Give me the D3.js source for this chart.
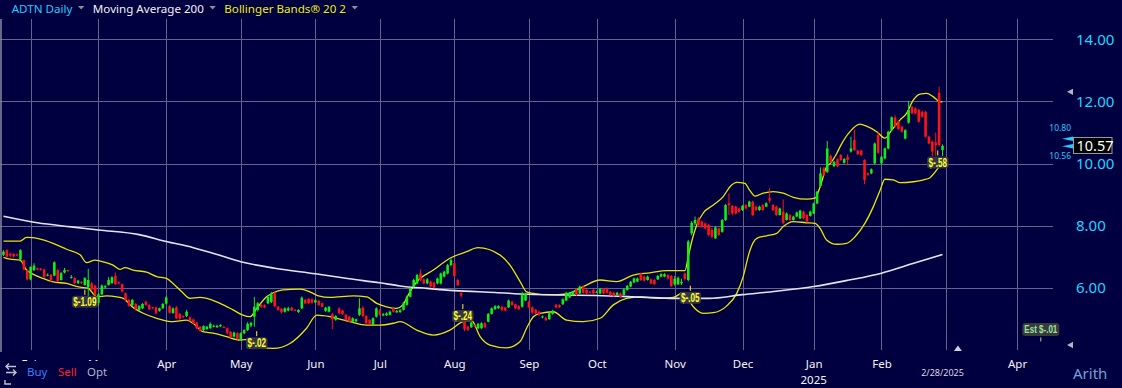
<!DOCTYPE html>
<html>
<head>
<meta charset="utf-8">
<script src="https://cdn.jsdelivr.net/npm/d3@7"></script>
<style>
  html, body { margin: 0; padding: 0; background: #000040; overflow: hidden; }
  svg { display: block; }
  text { font-family: "Noto Sans", sans-serif; }
</style>
</head>
<body>
<svg id="chart" width="1122" height="388"></svg>
<script>
// daily candles, ADTN, 22 Jan 2024 .. 28 Feb 2025, [open, high, low, close]
const candles = [
  [7.07,7.22,7.03,7.17],[7.22,7.25,6.98,7.01],[7.10,7.14,7.00,7.05],[7.10,7.12,6.98,7.02],[7.08,7.12,7.02,7.05],
  [6.92,7.25,6.90,7.22],[6.90,6.92,6.58,6.60],[6.58,6.60,6.25,6.28],[6.28,6.70,6.25,6.68],[6.58,6.80,6.55,6.72],
  [6.64,6.66,6.57,6.60],[6.62,6.65,6.56,6.59],[6.60,6.62,6.33,6.36],[6.42,6.47,6.38,6.43],[6.43,6.45,6.20,6.25],
  [6.40,6.86,6.38,6.83],[6.58,6.62,6.20,6.22],[6.26,6.52,6.24,6.48],[6.50,6.65,6.47,6.58],[6.58,6.60,6.52,6.56],
  [6.35,6.42,6.30,6.36],[6.32,6.35,6.12,6.16],[6.16,6.26,6.13,6.24],[6.20,6.22,6.13,6.16],[6.10,6.35,6.08,6.32],
  [6.03,6.62,5.72,6.26],[6.15,6.20,5.92,5.96],[6.08,6.10,5.75,5.78],[5.52,5.84,5.43,5.80],[5.80,6.12,5.78,6.08],
  [6.02,6.10,5.98,6.06],[6.10,6.35,6.08,6.26],[6.16,6.38,6.14,6.35],[6.39,6.50,6.10,6.13],[6.18,6.22,6.12,6.15],
  [6.13,6.15,5.86,5.89],[5.83,5.86,5.58,5.62],[5.62,5.65,5.40,5.43],[5.46,5.65,5.42,5.62],[5.49,5.52,5.28,5.32],
  [5.30,5.45,5.27,5.42],[5.35,5.52,5.33,5.49],[5.56,5.60,5.43,5.46],[5.45,5.48,5.30,5.32],[5.38,5.40,5.32,5.35],
  [5.38,5.40,5.16,5.19],[5.27,5.37,5.24,5.35],[5.35,5.52,5.33,5.49],[5.50,5.74,5.48,5.70],[5.42,5.45,5.18,5.21],
  [5.20,5.38,5.17,5.35],[5.38,5.42,5.00,5.03],[5.17,5.20,4.98,5.02],[5.10,5.12,5.03,5.07],[5.10,5.30,5.07,5.24],
  [5.06,5.09,4.92,4.95],[4.99,5.02,4.84,4.87],[4.89,4.92,4.68,4.71],[4.76,4.78,4.60,4.63],[4.65,4.80,4.62,4.78],
  [4.68,4.79,4.66,4.76],[4.71,4.90,4.69,4.85],[4.76,4.82,4.74,4.79],[4.74,4.82,4.72,4.79],[4.77,4.84,4.75,4.81],
  [4.75,4.78,4.71,4.73],[4.71,4.73,4.52,4.55],[4.59,4.62,4.39,4.42],[4.44,4.60,4.41,4.57],[4.55,4.58,4.34,4.37],
  [4.36,4.58,4.33,4.55],[4.55,4.68,4.52,4.65],[4.65,4.90,4.62,4.85],[4.80,4.92,4.74,4.88],[5.08,5.72,4.76,5.40],
  [5.30,5.55,5.25,5.51],[5.46,5.50,5.36,5.40],[5.45,5.48,5.35,5.38],[5.51,5.78,5.48,5.72],[5.55,5.88,5.52,5.80],
  [5.83,5.87,5.38,5.42],[5.40,5.43,5.27,5.30],[5.33,5.36,5.18,5.22],[5.24,5.38,5.21,5.35],[5.28,5.40,5.25,5.35],
  [5.37,5.40,5.26,5.28],[5.30,5.33,5.26,5.29],[5.23,5.32,5.20,5.30],[5.35,5.73,5.32,5.69],[5.62,5.66,5.48,5.51],
  [5.65,5.68,5.49,5.51],[5.64,5.67,5.50,5.53],[5.54,5.65,5.51,5.61],[5.59,5.62,5.43,5.46],[5.51,5.54,5.38,5.40],
  [5.27,5.40,5.24,5.37],[5.24,5.42,5.22,5.40],[5.16,5.20,4.68,5.00],[4.98,5.13,4.95,5.10],[5.35,5.38,5.16,5.19],
  [5.28,5.30,5.14,5.17],[5.14,5.17,4.95,4.98],[5.08,5.10,4.90,4.92],[4.92,5.06,4.90,5.03],[4.93,5.02,4.90,5.00],
  [5.14,5.67,5.10,5.35],[5.37,5.42,5.06,5.10],[5.10,5.13,4.84,4.87],[4.98,5.00,4.82,4.85],[4.82,5.06,4.80,5.03],
  [5.08,5.38,5.05,5.35],[5.28,5.32,5.12,5.14],[5.12,5.20,5.10,5.16],[5.13,5.22,5.10,5.19],[5.14,5.28,5.12,5.24],
  [5.35,5.38,5.21,5.24],[5.22,5.30,5.20,5.26],[5.23,5.33,5.20,5.29],[5.30,5.55,5.28,5.51],[5.46,5.76,5.44,5.72],
  [5.72,6.03,5.70,5.99],[6.05,6.30,6.02,6.26],[6.15,6.46,6.12,6.42],[6.47,6.60,6.22,6.26],[6.28,6.31,6.12,6.15],
  [6.15,6.32,6.12,6.28],[6.21,6.24,6.02,6.05],[6.18,6.20,5.99,6.02],[6.15,6.34,6.12,6.31],[6.15,6.50,6.12,6.47],
  [6.37,6.56,6.34,6.53],[6.47,6.78,6.44,6.74],[6.74,6.96,6.70,6.90],[6.80,6.85,6.35,6.39],[6.26,6.30,6.06,6.10],
  [5.83,5.88,5.70,5.76],[5.10,5.20,4.62,4.68],[4.76,4.80,4.62,4.66],[4.74,4.92,4.72,4.89],[4.80,4.83,4.74,4.78],
  [4.71,4.88,4.68,4.85],[4.71,4.90,4.69,4.87],[4.87,4.90,4.72,4.74],[4.92,5.20,4.90,5.17],[5.17,5.38,5.15,5.35],
  [5.32,5.45,5.30,5.42],[5.35,5.45,5.33,5.42],[5.40,5.43,5.27,5.30],[5.38,5.40,5.25,5.28],[5.38,5.63,5.36,5.60],
  [5.56,5.59,5.43,5.46],[5.48,5.50,5.32,5.35],[5.42,5.45,5.29,5.32],[5.40,5.88,5.37,5.80],[5.60,5.85,5.58,5.82],
  [5.56,5.60,5.35,5.38],[5.38,5.41,5.18,5.21],[5.30,5.33,5.16,5.19],[5.24,5.27,5.11,5.14],[5.06,5.12,5.03,5.09],
  [5.05,5.08,4.94,4.97],[5.00,5.22,4.98,5.19],[5.17,5.30,5.15,5.27],[5.46,5.49,5.35,5.38],[5.45,5.48,5.36,5.39],
  [5.48,5.67,5.46,5.64],[5.60,5.88,5.58,5.85],[5.70,5.88,5.68,5.85],[5.78,5.91,5.76,5.88],[5.96,5.99,5.75,5.78],
  [5.83,6.08,5.81,6.05],[6.05,6.08,5.82,5.85],[5.94,5.97,5.80,5.83],[5.88,5.91,5.84,5.86],[5.94,5.97,5.80,5.83],
  [5.86,5.92,5.84,5.88],[5.83,6.00,5.81,5.97],[5.97,6.00,5.80,5.83],[5.99,6.02,5.82,5.85],[5.88,5.91,5.75,5.78],
  [5.85,5.88,5.72,5.75],[5.78,5.88,5.76,5.85],[5.83,5.86,5.69,5.72],[5.78,5.99,5.76,5.96],[5.94,6.10,5.92,6.07],
  [6.05,6.23,6.03,6.20],[6.18,6.34,6.16,6.31],[6.21,6.34,6.19,6.31],[6.47,6.50,6.23,6.26],[6.37,6.40,6.21,6.24],
  [6.26,6.40,6.24,6.37],[6.28,6.31,6.12,6.15],[6.26,6.29,6.10,6.13],[6.28,6.42,6.26,6.39],[6.37,6.48,6.35,6.45],
  [6.37,6.48,6.35,6.45],[6.42,6.45,6.28,6.31],[6.39,6.42,6.03,6.07],[6.12,6.39,6.08,6.30],[6.12,6.37,6.10,6.33],
  [6.15,6.30,6.10,6.20],[6.47,6.50,6.25,6.29],[6.26,7.55,6.22,7.50],[7.76,8.15,7.70,8.10],[8.08,8.30,8.02,8.19],
  [8.24,8.28,7.98,8.03],[8.14,8.17,7.94,7.97],[8.08,8.11,7.89,7.92],[8.03,8.06,7.68,7.71],[7.87,7.94,7.60,7.65],
  [7.60,7.98,7.58,7.95],[7.92,7.95,7.68,7.71],[7.81,8.22,7.78,8.19],[8.19,8.70,8.16,8.67],[8.73,9.05,8.35,8.67],
  [8.64,8.67,8.35,8.40],[8.62,8.65,8.37,8.40],[8.56,8.59,8.43,8.46],[8.51,8.67,8.48,8.64],[8.67,8.70,8.53,8.56],
  [8.62,8.81,8.60,8.78],[8.78,8.81,8.32,8.35],[8.62,8.65,8.48,8.51],[8.51,8.65,8.48,8.62],[8.67,8.70,8.48,8.51],
  [8.62,8.76,8.60,8.73],[8.89,9.21,8.73,8.81],[8.67,8.70,8.48,8.51],[8.62,8.65,8.32,8.35],[8.35,8.59,8.33,8.56],
  [8.46,8.85,8.05,8.10],[8.19,8.43,8.17,8.40],[8.35,8.38,8.16,8.19],[8.19,8.33,8.17,8.30],[8.30,8.46,8.28,8.43],
  [8.24,8.52,8.22,8.49],[8.46,8.49,8.21,8.24],[8.35,8.38,8.11,8.14],[8.32,8.49,8.30,8.46],[8.40,8.75,8.38,8.72],
  [8.72,9.13,8.70,9.10],[9.28,9.88,9.25,9.69],[9.85,9.90,9.60,9.64],[9.74,10.73,9.70,10.49],[10.25,10.30,10.02,10.06],
  [9.92,10.09,9.89,10.06],[10.14,10.17,9.89,9.92],[10.28,10.31,10.09,10.12],[10.03,10.18,10.00,10.15],[10.22,10.30,9.95,10.12],
  [10.39,10.87,10.36,10.49],[10.76,11.10,10.41,10.44],[10.42,10.45,10.28,10.31],[10.42,10.45,10.25,10.28],[10.12,10.15,9.34,9.48],
  [9.69,9.72,9.61,9.64],[9.69,9.85,9.66,9.82],[10.01,10.68,9.98,10.65],[10.92,11.03,10.32,10.35],[10.01,10.25,9.98,10.22],
  [10.17,10.52,10.14,10.49],[10.49,11.06,10.46,11.03],[11.08,11.52,11.05,11.49],[11.49,11.56,11.18,11.21],[11.35,11.38,11.09,11.12],
  [11.19,11.22,11.00,11.03],[10.81,11.11,10.78,11.08],[11.32,12.02,11.29,11.73],[11.83,11.86,11.59,11.62],[11.78,11.81,11.59,11.62],
  [11.73,11.76,11.32,11.35],[11.67,11.70,11.48,11.51],[11.67,11.70,10.84,10.87],[10.87,10.90,10.62,10.65],[10.71,10.74,10.25,10.39],
  [10.68,11.00,10.25,10.60],[12.28,12.48,10.55,10.60],[10.44,10.62,10.25,10.57]
];

// [trading-day index, value]
const ma200 = [
  [0,8.31],[10,8.10],[20,7.97],[28,7.87],[40,7.72],[48,7.50],[56,7.30],[64,7.05],[70,6.85],[80,6.64],
  [92,6.46],[102,6.30],[111,6.17],[117,6.07],[125,5.99],[133,5.92],[145,5.86],[155,5.80],[165,5.78],[175,5.76],
  [188,5.71],[198,5.67],[208,5.67],[218,5.79],[228,5.90],[239,6.05],[249,6.25],[259,6.48],[268,6.78],[277,7.08]
];
const bbUpper = [
  [0,7.51],[4.9,7.51],[6.8,7.63],[8.7,7.62],[11.7,7.55],[15.7,7.39],[18.6,7.25],[22.6,7.07],[24.5,6.82],[27,6.90],
  [28.5,6.87],[32.3,6.74],[34.4,6.60],[35.8,6.66],[38.2,6.58],[42.2,6.51],[45.2,6.37],[48.1,6.31],[50,6.15],[52.6,5.88],
  [55,5.67],[58,5.70],[60.9,5.64],[63.9,5.51],[67.7,5.30],[70.6,5.13],[72.7,5.08],[74.7,5.35],[77.6,5.72],[79.6,5.85],
  [82.5,5.94],[87.5,5.97],[90.4,5.88],[92.9,5.75],[96.3,5.70],[103.2,5.75],[107.1,5.72],[110.1,5.51],[113,5.40],[116,5.35],
  [117.8,5.46],[119.9,5.88],[121.9,6.20],[126.8,6.58],[131.7,6.96],[136.6,7.17],[140,7.30],[146.5,7.06],[149.4,6.74],[152.4,6.21],
  [154.3,5.88],[156.3,5.83],[161.2,5.78],[166.1,5.81],[171,6.05],[176,6.26],[180.9,6.21],[185.8,6.42],[190.7,6.49],[195.6,6.56],
  [201,6.56],[202,7.01],[203,7.49],[204.5,8.03],[206.4,8.41],[209.4,8.67],[212.3,8.94],[214.3,9.26],[216.3,9.40],[218.7,9.37],
  [220.1,9.15],[221.7,8.96],[224.1,9.05],[227.1,9.10],[230,9.05],[233,8.92],[236.9,8.86],[239.4,8.89],[240.9,9.26],[242.8,9.90],
  [243.8,10.00],[245.8,10.33],[246.8,10.55],[249.7,11.03],[252.6,11.27],[254.6,11.21],[257.6,11.03],[260,10.82],[262,11.08],[264.5,11.41],
  [266.4,11.62],[268.4,12.05],[270.4,12.24],[272.3,12.26],[274.3,12.15],[276.3,11.99],[277,11.99]
];
const bbLower = [
  [0,6.99],[1.9,6.93],[4.9,6.90],[6.8,6.58],[8.7,6.45],[11.7,6.31],[14.6,6.20],[18.6,6.15],[22.6,6.03],[24.9,6.00],
  [27.5,5.72],[30.4,5.75],[33.4,5.72],[35.3,5.67],[38.2,5.38],[41.2,5.19],[45.2,5.03],[50,4.92],[54,4.97],[55.9,4.87],
  [58.8,4.60],[61.8,4.55],[65.8,4.44],[69.8,4.33],[72.7,4.35],[75.7,4.12],[79.6,4.06],[84.5,4.22],[89.4,4.71],[92.4,5.13],
  [96.3,5.08],[99.3,5.00],[102.2,4.92],[107.1,4.81],[111.1,4.81],[115,4.87],[117,4.92],[121.9,4.65],[126.8,4.49],[131.7,4.65],
  [135.6,4.92],[138.1,4.95],[140.6,4.44],[143.5,4.17],[148.4,4.08],[152.4,4.28],[154.3,4.71],[156.3,5.08],[158.3,5.19],[162.2,5.24],
  [166.1,4.97],[171,4.92],[176,5.03],[179.9,5.46],[183.8,5.67],[187.8,5.72],[193.6,5.67],[197.6,5.70],[200.5,5.85],[201.5,5.72],
  [203.5,5.40],[206.4,5.19],[209.4,5.21],[213.3,5.42],[216.3,5.83],[218.2,6.37],[220.2,7.22],[222.2,7.60],[225.1,7.68],[228.1,7.76],
  [230,7.98],[233,8.14],[236.9,8.10],[239.4,8.08],[240.9,7.92],[242.8,7.55],[245.8,7.41],[248.7,7.44],[251.2,7.65],[254.1,8.08],
  [256.6,8.62],[258.6,9.15],[260,9.50],[262.5,9.48],[264.5,9.39],[268.4,9.42],[271.4,9.48],[273.3,9.55],[275.3,9.80],[277,10.06]
];

// first trading day of each month (index into candles)
const monthIdx = [8, 28, 48, 70, 92, 111, 133, 155, 175, 198, 218, 239, 259, 278, 299];
const monthLabels = ["Feb", "Mar", "Apr", "May", "Jun", "Jul", "Aug", "Sep", "Oct", "Nov", "Dec", "Jan", "Feb", "", "Apr"];
const priceTicks = [6, 8, 10, 12, 14];

// earnings tags
const earnIdx = [24, 74.7, 135.5, 202.6, 275.6];
const earnPrice = [5.56, 4.23, 5.10, 5.69, 10.04];
const earnLabels = ["$-1.09", "$-.02", "$-.24", "$-.05", "$-.58"];
const estIdx = 306, estPrice = 4.67, estLabel = "Est $-.01";

const lastPrice = 10.57;
const quoteHi = 10.80, quoteLo = 10.56;
const rangeMarks = [12.31, 4.17];

const W = 1122, H = 388;
const bg = "#000040";
const grid = "#62628a";
const cyan = "#22ccff";

const svg = d3.select("#chart");
svg.append("rect").attr("width", W).attr("height", H).attr("fill", bg);

const x = d3.scaleLinear().domain([0, 278]).range([3.5, 945.9]);
const y = d3.scaleLinear().domain([4, 14]).range([350.3, 39.3]);

// GRID
svg.append("g").selectAll("line").data(priceTicks).enter().append("line")
  .attr("x1", 0).attr("x2", 1053)
  .attr("y1", d => Math.round(y(d)) + 0.5).attr("y2", d => Math.round(y(d)) + 0.5)
  .attr("stroke", grid).attr("stroke-width", 1);

svg.append("g").selectAll("line").data(monthIdx).enter().append("line")
  .attr("x1", d => Math.round(x(d)) + 0.5).attr("x2", d => Math.round(x(d)) + 0.5)
  .attr("y1", 19).attr("y2", 350)
  .attr("stroke", grid).attr("stroke-width", 1);

svg.append("line").attr("x1", 1).attr("x2", 1).attr("y1", 19).attr("y2", 352)
  .attr("stroke", "#8a8aa4").attr("stroke-width", 1.5);

// INDICATORS
const line = d3.line().x(d => x(d[0])).y(d => y(d[1])).curve(d3.curveMonotoneX);

svg.append("path").datum(bbUpper).attr("d", line)
  .attr("fill", "none").attr("stroke", "#e6e600").attr("stroke-width", 1.3);
svg.append("path").datum(bbLower).attr("d", line)
  .attr("fill", "none").attr("stroke", "#e6e600").attr("stroke-width", 1.3);
svg.append("path").datum(ma200).attr("d", line)
  .attr("fill", "none").attr("stroke", "#e4e4ee").attr("stroke-width", 1.6);

// CANDLES
const up = "#11ee11", down = "#ff1414";
const cg = svg.append("g");
const c = cg.selectAll("g").data(candles).enter().append("g");
c.append("line")
  .attr("x1", (d, i) => x(i)).attr("x2", (d, i) => x(i))
  .attr("y1", d => y(d[1])).attr("y2", d => y(d[2]))
  .attr("stroke", d => d[3] >= d[0] ? up : down).attr("stroke-width", 1);
c.append("rect")
  .attr("x", (d, i) => x(i) - 1.3).attr("width", 2.6)
  .attr("y", d => y(Math.max(d[0], d[3])))
  .attr("height", d => Math.max(1, Math.abs(y(d[0]) - y(d[3]))))
  .attr("fill", d => d[3] >= d[0] ? up : down);

// EARNINGS TAGS (narrow bold text)
const tagFont = '"Liberation Sans", "Noto Sans", sans-serif';
const tags = svg.append("g").selectAll("g").data(earnLabels).enter().append("g")
  .attr("transform", (d, i) => `translate(${x(earnIdx[i])},${y(earnPrice[i])})`);
tags.append("rect").attr("class", "tagbg");
tags.append("text").text(d => d)
  .attr("text-anchor", "middle").attr("dy", "0.36em")
  .style("font-family", tagFont).style("font-weight", "bold").style("font-size", "12px")
  .attr("fill", "#ffff22");
tags.each(function() {
  const g = d3.select(this);
  const t = g.select("text");
  const tw = t.node().getComputedTextLength() * 0.68;
  t.attr("textLength", tw).attr("lengthAdjust", "spacingAndGlyphs");
  const w = tw + 3;
  g.select("rect").attr("x", -w / 2).attr("y", -6).attr("width", w).attr("height", 12)
    .attr("rx", 3).attr("fill", "#3a3a46").attr("opacity", 0.9);
  g.append("line").attr("x1", 0).attr("x2", 0).attr("y1", -12).attr("y2", -7)
    .attr("stroke", "#ffff22").attr("stroke-width", 1);
});

const est = svg.append("g").attr("transform", `translate(${x(estIdx)},${y(estPrice)})`);
est.append("rect").attr("x", -18.5).attr("y", -6.5).attr("width", 37).attr("height", 13)
  .attr("rx", 3).attr("fill", "#3a3a3e");
est.append("text").text(estLabel).attr("text-anchor", "middle").attr("dy", "0.36em")
  .attr("textLength", 33).attr("lengthAdjust", "spacingAndGlyphs")
  .style("font-family", tagFont).style("font-weight", "bold").style("font-size", "11px")
  .attr("fill", "#99e699");
est.append("line").attr("x1", 0).attr("x2", 0).attr("y1", 8).attr("y2", 12)
  .attr("stroke", "#99e699").attr("stroke-width", 1);

// RIGHT AXIS
const yAxis = svg.append("g").attr("transform", "translate(1076,0)")
  .call(d3.axisRight(y).tickValues(priceTicks).tickFormat(d3.format(".2f")).tickSize(0).tickPadding(0));
yAxis.select(".domain").remove();
yAxis.selectAll("text").attr("fill", "#1ed6ff")
  .style("font-size", "15px").style("font-family", '"Noto Sans", sans-serif');

// last price box and quote markers
const ly = y(lastPrice);
svg.append("rect").attr("x", 1073.5).attr("y", ly - 8.5).attr("width", 38.5).attr("height", 16)
  .attr("fill", "#000").attr("stroke", "#9a9a9a").attr("stroke-width", 1);
svg.append("text").attr("x", 1076.5).attr("y", ly).attr("dy", "0.35em").text(lastPrice.toFixed(2))
  .attr("fill", "#fff").style("font-size", "14.5px");

[quoteHi, quoteLo].forEach(q => {
  const qy = y(q);
  svg.append("path").attr("d", `M1062,${qy}L1073,${qy - 2.3}L1073,${qy + 2.3}Z`).attr("fill", cyan);
});
svg.append("text").attr("x", 1071).attr("y", y(quoteHi) - 8).attr("text-anchor", "end")
  .text(quoteHi.toFixed(2)).attr("fill", cyan).style("font-size", "8.5px");
svg.append("text").attr("x", 1071).attr("y", y(quoteLo) + 13).attr("text-anchor", "end")
  .text(quoteLo.toFixed(2)).attr("fill", cyan).style("font-size", "8.5px");

rangeMarks.forEach(p => {
  const py = y(p);
  svg.append("path").attr("d", `M1067,${py}L1073,${py - 3.2}L1073,${py + 3.2}Z`).attr("fill", "#b4b4c0");
});

// BOTTOM AXIS
const xAxis = svg.append("g").attr("transform", "translate(0,357)")
  .call(d3.axisBottom(x).tickValues(monthIdx).tickFormat((d, i) => monthLabels[i]).tickSize(0).tickPadding(3));
xAxis.select(".domain").remove();
xAxis.selectAll("text").attr("fill", "#f4f4f4")
  .style("font-size", "11.5px").style("font-family", '"Noto Sans", sans-serif');

svg.append("text").attr("x", x(239)).attr("y", 384).attr("text-anchor", "middle")
  .text("2025").attr("fill", "#f4f4f4").style("font-size", "11.5px");
svg.append("text").attr("x", x(277)).attr("y", 376).attr("text-anchor", "middle")
  .text("2/28/2025").attr("fill", "#d8d8e0").style("font-size", "9px");
const tx = x(278) + 12;
svg.append("path").attr("d", `M${tx - 4},351L${tx + 4},351L${tx},345.5Z`).attr("fill", "#d0d0da");

svg.append("text").attr("x", 1073).attr("y", 379).text("Arith")
  .attr("fill", "#6fa2dc").style("font-size", "15px");

// bottom-left trade bar
svg.append("rect").attr("x", 0).attr("y", 361).attr("width", 112).attr("height", 27).attr("fill", bg);
svg.append("text").attr("x", 27).attr("y", 376).text("Buy").attr("fill", "#2f83ff").style("font-size", "11.5px");
svg.append("text").attr("x", 58).attr("y", 376).text("Sell").attr("fill", "#ff2424").style("font-size", "11.5px");
svg.append("text").attr("x", 87).attr("y", 376).text("Opt").attr("fill", "#aab6cc").style("font-size", "11.5px");
const ic = svg.append("g").attr("fill", "none").attr("stroke", "#c4c4cc").attr("stroke-width", 1.4);
ic.append("path").attr("d", "M16,366.5L6,366.5M9,363.5L6,366.5L9,369.5");
ic.append("path").attr("d", "M6,372.5L16,372.5M13,369.5L16,372.5L13,375.5");
ic.append("path").attr("d", "M5,380L5,384L11,384");

// LEGEND
const legend = [
  { t: "ADTN Daily", c: cyan },
  { t: "Moving Average 200", c: "#f2f2f2" },
  { t: "Bollinger Bands\u00AE 20 2", c: "#eeee10" }
];
let lx = 11.7;
legend.forEach(l => {
  const t = svg.append("text").attr("x", lx).attr("y", 13).text(l.t)
    .attr("fill", l.c).style("font-size", "11.6px");
  const w = t.node().getComputedTextLength();
  const ax = lx + w + 5.5;
  svg.append("path").attr("d", `M${ax},6L${ax + 6.5},6L${ax + 3.25},9.5Z`).attr("fill", "#8c8c9c");
  lx = ax + 6.5 + 8.5;
});
</script>
</body>
</html>
